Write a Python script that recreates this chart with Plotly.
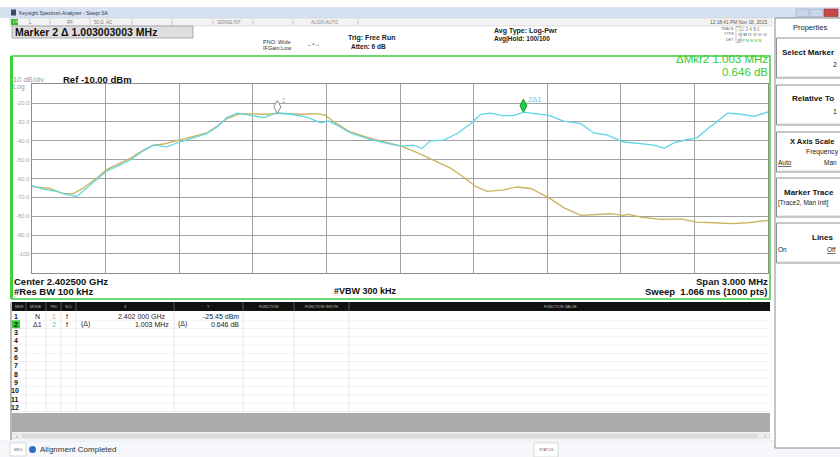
import plotly.graph_objects as go

W, H = 840, 457
FONT = "Liberation Sans, Arial, sans-serif"

# ---------------- data ----------------
trace1_freq_mhz = [2401.000, 2401.046, 2401.073, 2401.128, 2401.169, 2401.210, 2401.264, 2401.302,
                   2401.359, 2401.400, 2401.454, 2401.495, 2401.536, 2401.604, 2401.672, 2401.713,
                   2401.754, 2401.795, 2401.849, 2401.903, 2401.958, 2402.000, 2402.053, 2402.107,
                   2402.162, 2402.196, 2402.237, 2402.298, 2402.380, 2402.448, 2402.505, 2402.570,
                   2402.638, 2402.706, 2402.760, 2402.808, 2402.856, 2402.924, 2402.978, 2403.033,
                   2403.107, 2403.169, 2403.237, 2403.305, 2403.359, 2403.407, 2403.434, 2403.482,
                   2403.563, 2403.645, 2403.710, 2403.781, 2403.849, 2403.917, 2404.000]
trace1_dbm = [-64.3, -65.0, -65.3, -68.0, -68.0, -65.0, -59.8, -55.4,
              -51.9, -49.3, -44.9, -42.3, -41.7, -39.3, -37.0, -35.8,
              -32.3, -28.2, -25.6, -25.9, -25.9, -25.45, -25.6, -25.9,
              -25.6, -26.5, -30.5, -35.3, -38.7, -41.0, -42.8, -46.3,
              -50.2, -54.5, -59.3, -64.2, -66.8, -66.0, -64.5, -65.3,
              -70.3, -75.6, -79.6, -79.1, -78.7, -79.6, -79.1, -80.5,
              -81.7, -81.4, -83.2, -83.5, -84.0, -83.5, -82.3]

trace2_freq_mhz = [2401.000, 2401.046, 2401.100, 2401.142, 2401.183, 2401.216, 2401.264, 2401.302,
                   2401.359, 2401.400, 2401.454, 2401.495, 2401.550, 2401.604, 2401.672, 2401.713,
                   2401.754, 2401.795, 2401.836, 2401.890, 2401.944, 2402.000, 2402.053, 2402.121,
                   2402.176, 2402.209, 2402.244, 2402.298, 2402.380, 2402.448, 2402.505, 2402.556,
                   2402.590, 2402.624, 2402.679, 2402.733, 2402.788, 2402.829, 2402.869, 2402.924,
                   2402.965, 2403.003, 2403.107, 2403.167, 2403.237, 2403.290, 2403.346, 2403.407,
                   2403.482, 2403.536, 2403.577, 2403.618, 2403.672, 2403.710, 2403.767, 2403.836,
                   2403.890, 2403.944, 2404.000]
trace2_dbm = [-63.8, -65.6, -66.8, -68.6, -69.5, -65.9, -60.7, -56.3,
              -52.8, -50.2, -45.3, -42.3, -43.2, -40.5, -37.9, -36.1,
              -32.6, -27.7, -25.3, -26.5, -27.7, -25.1, -25.9, -27.4,
              -30.5, -29.5, -31.7, -35.8, -39.3, -41.4, -42.8, -42.3,
              -44.0, -40.0, -39.6, -36.1, -30.9, -25.9, -25.3, -26.8,
              -26.5, -24.8, -26.5, -29.5, -30.9, -35.8, -37.0, -40.5,
              -41.7, -42.3, -44.0, -41.0, -39.3, -38.4, -32.3, -25.3,
              -25.9, -27.0, -24.7]

marker_freq_mhz = [2402.000, 2403.003]
marker_dbm = [-25.45, -24.80]
marker_labels = ["1", "2\u03941"]

x_grid_mhz = [2401.0, 2401.3, 2401.6, 2401.9, 2402.2, 2402.5, 2402.8, 2403.1, 2403.4, 2403.7, 2404.0]
y_tick_vals = [-20, -30, -40, -50, -60, -70, -80, -90, -100]
y_tick_text = ["-20.0", "-30.0", "-40.0", "-50.0", "-60.0", "-70.0", "-80.0", "-90.0", "-100"]

table_rows = [
    ["1", "N", "1", "f", "", "2.402 000 GHz", "", "-25.45 dBm"],
    ["2", "\u03941", "2", "f", "(\u0394)", "1.003 MHz", "(\u0394)", "0.646 dB"],
]
table_headers = ["MKR", "MODE", "TRC", "SCL", "X", "Y", "FUNCTION", "FUNCTION WIDTH", "FUNCTION VALUE"]

# ---------------- helpers ----------------
shapes = []
anns = []


def px(x):
    return x / W


def py(y):
    return 1 - y / H


def R(x0, y0, x1, y1, fill=None, line=None, lw=1, layer="below"):
    shapes.append(dict(type="rect", xref="paper", yref="paper",
                       x0=px(x0), y0=py(y0), x1=px(x1), y1=py(y1),
                       fillcolor=fill if fill else "rgba(0,0,0,0)",
                       line=dict(color=line if line else "rgba(0,0,0,0)", width=lw if line else 0),
                       layer=layer))


def L(x0, y0, x1, y1, color="#999", lw=1, layer="below"):
    shapes.append(dict(type="line", xref="paper", yref="paper",
                       x0=px(x0), y0=py(y0), x1=px(x1), y1=py(y1),
                       line=dict(color=color, width=lw), layer=layer))


def T(x, y, text, size=8, color="#111", bold=False, anchor="left"):
    anns.append(dict(x=px(x), y=py(y), xref="paper", yref="paper",
                     text=("<b>%s</b>" % text) if bold else text, showarrow=False,
                     xanchor=anchor, yanchor="middle", borderpad=0,
                     font=dict(size=size, color=color, family=FONT)))


# ---------------- window chrome ----------------
R(0, 7, 840, 18, fill="#d5e1f1")
R(11, 9.5, 16, 15.5, fill="#3a4a6a")
T(18, 12.5, "Keysight Spectrum Analyzer - Swept SA", 5, "#334")
R(796, 9, 809, 16.5, fill="#c9d6ea", line="#9aa8c0", lw=0.6)
R(810, 9, 823, 16.5, fill="#c9d6ea", line="#9aa8c0", lw=0.6)
R(824, 9, 838, 16.5, fill="#c84848", line="#9a3030", lw=0.6)

# instrument status strip
R(10, 18, 772, 26, fill="#f3f3f3", line="#cfcfcf", lw=0.6)
R(11, 19, 18, 25, fill="#2db82d")
T(11.5, 22, "LXI", 3.5, "#ffffff")
for sx in [50, 90, 132, 172, 213, 253, 293, 358]:
    L(sx, 19, sx, 25, "#bbbbbb", 0.7)
T(28, 22, "L", 4.5, "#777")
T(66, 22, "RF", 4.5, "#777")
T(93, 22, "50 \u03a9  AC", 4.5, "#777")
T(216, 22, "SENSE:INT", 4.5, "#888")
T(310, 22, "ALIGN AUTO", 4.5, "#888")
T(768, 22.5, "12:18:41 PM Nov 18, 2015", 4.8, "#555", anchor="right")

# marker readout box
R(12, 26, 193, 38, fill="#dedede", line="#9a9a9a", lw=0.8)
T(14, 32, "Marker 2 \u0394 1.003003003 MHz", 10.5, "#111", bold=True)

# settings texts
T(262, 42, "PNO: Wide", 5.5, "#333")
T(262, 48.5, "IFGain:Low", 5.5, "#333")
T(306, 44.5, "\u2190\u2022\u2192", 5.5, "#333")
T(347, 38, "Trig: Free Run", 7, "#222", bold=True)
T(350, 46, "Atten: 6 dB", 6.5, "#222", bold=True)
T(493, 31.5, "Avg Type: Log-Pwr", 7, "#222", bold=True)
T(493, 39, "Avg|Hold: 100/100", 6.5, "#222", bold=True)

# trace indicator
T(735, 29, "TRACE", 3.8, "#666", anchor="right")
T(735, 34.5, "TYPE", 3.8, "#666", anchor="right")
T(735, 40, "DET", 3.8, "#666", anchor="right")
R(736, 26.5, 741, 42.5, fill=None, line="#888", lw=0.5)
T(737, 29, "<span style='color:#d9a030'>1</span> <span style='color:#30c8e0'>2</span> "
           "<span style='color:#d040d0'>3</span> <span style='color:#30b030'>4</span> "
           "<span style='color:#3060e0'>5</span> <span style='color:#e08030'>6</span>", 4.5)
T(737, 34.5, "<span style='color:#888'>W</span> <span style='color:#333'>M</span>"
             " <span style='color:#888'>W W W W</span>", 4.2)
T(737, 40, "P <span style='color:#30b030'>P N N N N</span>", 4.2, "#333")

# main display green frame
R(12, 56, 770, 299, fill=None, line="#3fcf3f", lw=1.5, layer="above")
R(10, 56, 13, 299, fill="#3fcf3f", layer="above")

T(12, 79, "10 dB/div", 7.5, "#a0a0a0")
T(62, 79, "Ref -10.00 dBm", 9.5, "#111", bold=True)
T(12, 86.5, "Log", 7, "#a0a0a0")

T(769, 59, "\u0394Mkr2 1.003 MHz", 11.5, "#33cc33", anchor="right")
T(769, 72, "0.646 dB", 11.5, "#33cc33", anchor="right")

T(13, 281, "Center 2.402500 GHz", 9.5, "#111", bold=True)
T(13, 291, "#Res BW 100 kHz", 9.5, "#111", bold=True)
T(333, 291, "#VBW 300 kHz", 9, "#111", bold=True)
T(769, 281, "Span 3.000 MHz", 9.5, "#111", bold=True, anchor="right")
T(769, 291, "Sweep  1.066 ms (1000 pts)", 9.5, "#111", bold=True, anchor="right")

# ---------------- marker table ----------------
col_edges = [12, 26, 46, 61, 76, 174, 243, 294, 349, 770]
R(12, 302, 770, 311, fill="#111111")
header_centers = [19, 36, 53.5, 68.5, 125, 208.5, 268.5, 321.5, 560]
for hx, ht in zip(header_centers, table_headers):
    T(hx, 306.5, ht, 3.8, "#bdbdbd", anchor="center")
for ce in col_edges[1:-1]:
    L(ce, 302, ce, 311, "#666", 0.8)
    L(ce, 311, ce, 412, "#e2e2e2", 0.8)
R(10, 302, 12, 440, fill="#b8b8b8")
row_h = 8.3
for i in range(12):
    yc = 316 + i * row_h
    L(12, yc + row_h / 2, 770, yc + row_h / 2, "#ececec", 0.8)
    if i == 1:
        R(12, yc - 4, 20, yc + 4, fill="#33cc33")
    T(19 if i < 9 else 20, yc, str(i + 1), 7, "#111", bold=True, anchor="right")

trc_colors = ["#e0a030", "#40c8e0"]
for i, row in enumerate(table_rows):
    yc = 316 + i * row_h
    T(37, yc, row[1], 7, "#222", anchor="center")
    T(53.5, yc, row[2], 7, trc_colors[i], anchor="center")
    T(67, yc, row[3], 7, "#222", anchor="center")
    if row[4]:
        T(80, yc, row[4], 7, "#222")
    T(170 if i == 1 else 167, yc, row[5], 7, "#222", anchor="right")
    if row[6]:
        T(177, yc, row[6], 7, "#222")
    T(240, yc, row[7], 7, "#222", anchor="right")

R(12, 413, 770, 432, fill="#ababab")
R(12, 433, 770, 439, fill="#ececec", line="#d0d0d0", lw=0.5)
R(22, 434, 758, 438, fill="#dcdcdc")
T(15, 436, "\u2039", 5, "#777")
T(767, 436, "\u203a", 5, "#777", anchor="right")

# status bar
R(0, 441, 840, 457, fill="#f5f7fa")
L(0, 441, 840, 441, "#dfe4ea", 0.8)
R(10, 443, 26, 456, fill="#ffffff", line="#c8c8c8", lw=0.6)
T(18, 449.5, "MSG", 3.6, "#666", anchor="center")
shapes.append(dict(type="circle", xref="paper", yref="paper",
                   x0=px(29), y0=py(453), x1=px(36), y1=py(446),
                   fillcolor="#2f6fc8", line=dict(width=0)))
T(39, 449.5, "Alignment Completed", 8, "#333")
R(534, 443, 558, 457, fill="#ffffff", line="#c8c8c8", lw=0.6)
T(546, 449.5, "STATUS", 3.8, "#666", anchor="center")

# ---------------- right properties panel ----------------
R(775, 18, 845, 448, fill="#ffffff", line="#8a8a8a", lw=1)
T(810, 28, "Properties", 7.5, "#222", anchor="center")
for (b0, b1) in [(38, 78), (85, 125), (132, 172), (178, 217), (223, 263)]:
    R(776.5, b0, 845, b1, fill="#ffffff", line="#8e8e8e", lw=1)
    L(777.5, b1 - 1, 845, b1 - 1, "#c8c8c8", 0.8)
T(781, 52, "Select Marker", 8, "#111", bold=True)
T(832, 65, "2", 7, "#222")
T(791, 98.5, "Relative To", 8, "#111", bold=True)
T(832, 111.5, "1", 7, "#222")
T(789, 141.5, "X Axis Scale", 7.5, "#111", bold=True)
T(805, 151.5, "Frequency", 6.8, "#222")
T(777, 162, "<u>Auto</u>", 6.5, "#222")
T(823, 162, "Man", 6.5, "#222")
T(783, 192, "Marker Trace", 8, "#111", bold=True)
T(777, 202.5, "[Trace2, Man Init]", 6.5, "#222")
T(811, 237.5, "Lines", 8, "#111", bold=True)
T(777, 249, "On", 6.5, "#222")
T(826, 249, "<u>Off</u>", 6.5, "#222")

# ---------------- plot ----------------
fig = go.Figure()
fig.add_trace(go.Scatter(x=trace1_freq_mhz, y=trace1_dbm, mode="lines",
                         line=dict(color="#cbb35c", width=1.3), hoverinfo="skip"))
fig.add_trace(go.Scatter(x=trace2_freq_mhz, y=trace2_dbm, mode="lines",
                         line=dict(color="#5fd6e4", width=1.3), hoverinfo="skip"))

# marker diamonds anchored to the data points (pixel-sized)
diamond = "M0,0 L3.5,6.5 L0,13 L-3.5,6.5 Z"
marker_fill = ["#ffffff", "#22cc44"]
marker_line = ["#8a8a8a", "#149a30"]
marker_label_color = ["#c9a43c", "#4fd0e6"]
for i in range(len(marker_freq_mhz)):
    shapes.append(dict(type="path", xref="x", yref="y", xsizemode="pixel", ysizemode="pixel",
                       xanchor=marker_freq_mhz[i], yanchor=marker_dbm[i], path=diamond,
                       fillcolor=marker_fill[i], line=dict(color=marker_line[i], width=1),
                       layer="above"))
    anns.append(dict(x=marker_freq_mhz[i], y=marker_dbm[i], xref="x", yref="y",
                     text=marker_labels[i], showarrow=False, xanchor="left", yanchor="middle",
                     xshift=4, yshift=13, borderpad=0,
                     font=dict(size=6.5 if i == 0 else 7.5, color=marker_label_color[i], family=FONT)))

fig.update_layout(
    width=W, height=H,
    margin=dict(l=0, r=0, t=0, b=0),
    paper_bgcolor="#ffffff", plot_bgcolor="#ffffff",
    showlegend=False,
    font=dict(family=FONT),
    shapes=shapes, annotations=anns,
    xaxis=dict(domain=[32 / W, 768 / W], range=[2401.0, 2404.0],
               tickmode="array", tickvals=x_grid_mhz, showticklabels=False,
               showgrid=True, gridcolor="#a2a2a2", gridwidth=1, zeroline=False,
               showline=True, mirror=True, linecolor="#8c8c8c", linewidth=1.2, ticks=""),
    yaxis=dict(domain=[1 - 272.7 / H, 1 - 84.3 / H], range=[-110, -10],
               tickmode="array", tickvals=y_tick_vals, ticktext=y_tick_text,
               tickfont=dict(size=6, color="#a6a6a6", family=FONT),
               showgrid=True, gridcolor="#a2a2a2", gridwidth=1, zeroline=False,
               showline=True, mirror=True, linecolor="#8c8c8c", linewidth=1.2, ticks=""),
)

fig.write_html("out.html", config={"displayModeBar": False},
               post_script="document.body.style.margin='0';document.body.style.overflow='hidden';")
